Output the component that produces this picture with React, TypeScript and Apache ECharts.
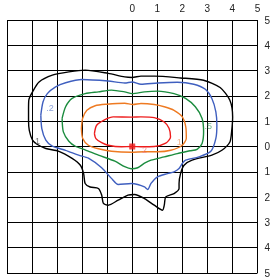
import React, { useEffect, useRef } from "react";
import * as echarts from "echarts";

const xTicks = [-5, -4, -3, -2, -1, 0, 1, 2, 3, 4, 5];

const blackLine: number[][] = [
  [-4.14, 1.43], [-4.13, 1.83], [-3.98, 2.16], [-3.72, 2.55], [-3.19, 2.82], [-2.53, 2.95],
  [-1.88, 3.02], [-0.96, 2.89], [-0.3, 2.75], [0, 2.73], [0.35, 2.78], [0.89, 2.78],
  [1.93, 2.71], [2.85, 2.62], [3.51, 2.33], [3.9, 1.83], [4.01, 1.17], [3.97, 0.6],
  [3.9, 0.18], [3.58, -0.15], [3.18, -0.34], [2.39, -0.54], [2.07, -0.74], [1.93, -1.07],
  [1.87, -1.46], [1.87, -1.66], [1.67, -1.86], [1.34, -1.99], [1.28, -2.32], [1.21, -2.52],
  [0.88, -2.32], [0.49, -2.06], [0.09, -1.9], [-0.17, -1.92], [-0.56, -2.12], [-0.96, -2.32],
  [-1.15, -2.25], [-1.22, -1.92], [-1.35, -1.66], [-1.68, -1.6], [-1.88, -1.46], [-1.94, -1.07],
  [-2.07, -0.74], [-2.4, -0.47], [-2.93, -0.19], [-3.45, -0.08], [-3.8, 0.09], [-3.98, 0.25],
  [-4.11, 0.64], [-4.14, 1.04], [-4.14, 1.43],
];

const blueLine: number[][] = [
  [-3.65, 1.24], [-3.56, 1.77], [-3.39, 2.09], [-3.06, 2.36], [-2.66, 2.52], [-2.01, 2.65],
  [-0.96, 2.59], [-0.3, 2.51], [0, 2.55], [0.35, 2.46], [1.01, 2.51], [1.8, 2.54],
  [2.46, 2.46], [2.92, 2.26], [3.18, 1.9], [3.34, 1.37], [3.38, 0.84], [3.34, 0.32],
  [3.14, -0.19], [2.66, -0.41], [2.13, -0.54], [2.0, -0.67], [1.87, -0.87], [1.67, -1.0],
  [1.41, -1.07], [1.01, -1.2], [0.75, -1.46], [0.62, -1.7], [0.49, -1.6], [0.22, -1.5],
  [-0.04, -1.46], [-0.56, -1.5], [-0.83, -1.26], [-1.22, -0.84], [-1.75, -0.46], [-2.14, -0.34],
  [-2.66, -0.15], [-3.19, 0.01], [-3.45, 0.25], [-3.61, 0.71], [-3.65, 1.24],
];

const greenLine: number[][] = [
  [-2.8, 1.11], [-2.66, 1.57], [-2.4, 1.9], [-1.88, 2.09], [-1.35, 2.16], [-0.83, 2.23],
  [-0.3, 2.16], [0, 2.09], [0.49, 2.16], [1.01, 2.19], [1.67, 2.09], [2.13, 1.9],
  [2.52, 1.57], [2.79, 1.11], [2.85, 0.58], [2.79, 0.12], [2.59, -0.11], [2.31, -0.17],
  [1.8, -0.28], [1.28, -0.41], [0.75, -0.54], [0.49, -0.66], [0.22, -0.84], [-0.04, -0.88],
  [-0.3, -0.8], [-0.69, -0.58], [-1.35, -0.34], [-1.88, -0.13], [-2.27, 0.01], [-2.53, 0.21],
  [-2.75, 0.58], [-2.8, 1.11],
];

const orangeLine: number[][] = [
  [-2.03, 0.71], [-1.98, 1.11], [-1.81, 1.43], [-1.48, 1.61], [-1.02, 1.67], [-0.3, 1.71],
  [0.03, 1.66], [0.35, 1.7], [0.88, 1.66], [1.28, 1.57], [1.67, 1.43], [2.0, 1.17],
  [2.14, 0.77], [2.16, 0.33], [2.0, 0.05], [1.54, -0.15], [1.01, -0.21], [0.49, -0.21],
  [-0.04, -0.23], [-0.83, -0.19], [-1.35, -0.09], [-1.75, 0.05], [-1.98, 0.33], [-2.03, 0.71],
];

const redLine: number[][] = [
  [-1.51, 0.51], [-1.42, 0.84], [-1.09, 1.06], [-0.76, 1.17], [-0.04, 1.16], [0.35, 1.17],
  [0.88, 1.14], [1.28, 0.97], [1.47, 0.72], [1.53, 0.38], [1.34, 0.13], [0.88, 0.0],
  [0.35, -0.01], [0, 0], [-0.43, -0.01], [-0.96, 0.05], [-1.22, 0.15], [-1.45, 0.31],
  [-1.51, 0.51],
];

const centerPoint: number[][] = [[0, 0]];

const contourLabels = [
  { value: [-3.28, 1.53], text: ".2", color: "#6f8ad0" },
  { value: [3.04, 0.8], text: ".5", color: "#4aa46c" },
  { value: [-3.78, 0.21], text: "1", color: "#555555" },
  { value: [1.88, 0.17], text: "1", color: "#f0a070" },
  { value: [0.49, -0.15], text: "2", color: "#f08080" },
];

const contours = [
  { name: "c1", data: blackLine, color: "#000000" },
  { name: "c2", data: blueLine, color: "#3f5fbf" },
  { name: "c5", data: greenLine, color: "#1b8c3e" },
  { name: "c10", data: orangeLine, color: "#ee7a22" },
  { name: "c20", data: redLine, color: "#ee1c1c" },
];

export default function App() {
  const ref = useRef<HTMLDivElement>(null);
  useEffect(() => {
    if (!ref.current) return;
    const chart = echarts.init(ref.current, undefined, { renderer: "svg" });
    const font = "'Liberation Sans', Arial, sans-serif";
    chart.setOption({
      animation: false,
      grid: { left: 7, right: 12, top: 20, bottom: 5 },
      xAxis: {
        type: "value",
        position: "top",
        min: -5,
        max: 5,
        interval: 1,
        axisLine: { show: false, onZero: false },
        axisTick: { show: false },
        axisLabel: {
          margin: 7,
          fontSize: 10,
          color: "#222",
          fontFamily: font,
          formatter: (v: number) => (v >= 0 && xTicks.includes(v) ? String(v) : ""),
        },
        splitLine: { show: true, showMinLine: true, showMaxLine: true, lineStyle: { color: "#000", width: 1 } },
      },
      yAxis: {
        type: "value",
        position: "right",
        min: -5,
        max: 5,
        interval: 1,
        axisLine: { show: false, onZero: false },
        axisTick: { show: false },
        axisLabel: {
          margin: 7,
          fontSize: 10,
          color: "#222",
          fontFamily: font,
          formatter: (v: number) => String(Math.abs(v)),
        },
        splitLine: { show: true, showMinLine: true, showMaxLine: true, lineStyle: { color: "#000", width: 1 } },
      },
      series: [
        ...contours.map((c) => ({
          name: c.name,
          type: "line",
          data: c.data,
          showSymbol: false,
          symbol: "none",
          smooth: 0.25,
          lineStyle: { color: c.color, width: 1.4 },
          z: 3,
        })),
        {
          type: "scatter",
          data: contourLabels.map((l) => ({
            value: l.value,
            label: { show: true, formatter: l.text, color: l.color },
          })),
          symbolSize: 0,
          label: { show: true, position: "inside", fontSize: 9, fontFamily: font },
          z: 4,
        },
        {
          type: "scatter",
          data: centerPoint,
          symbol: "rect",
          symbolSize: 6,
          itemStyle: { color: "#ee1c1c" },
          z: 5,
        },
      ],
    });
    return () => chart.dispose();
  }, []);
  return (
    <div
      ref={ref}
      style={{ position: "fixed", left: 0, top: 0, width: 273, height: 278 }}
    />
  );
}
